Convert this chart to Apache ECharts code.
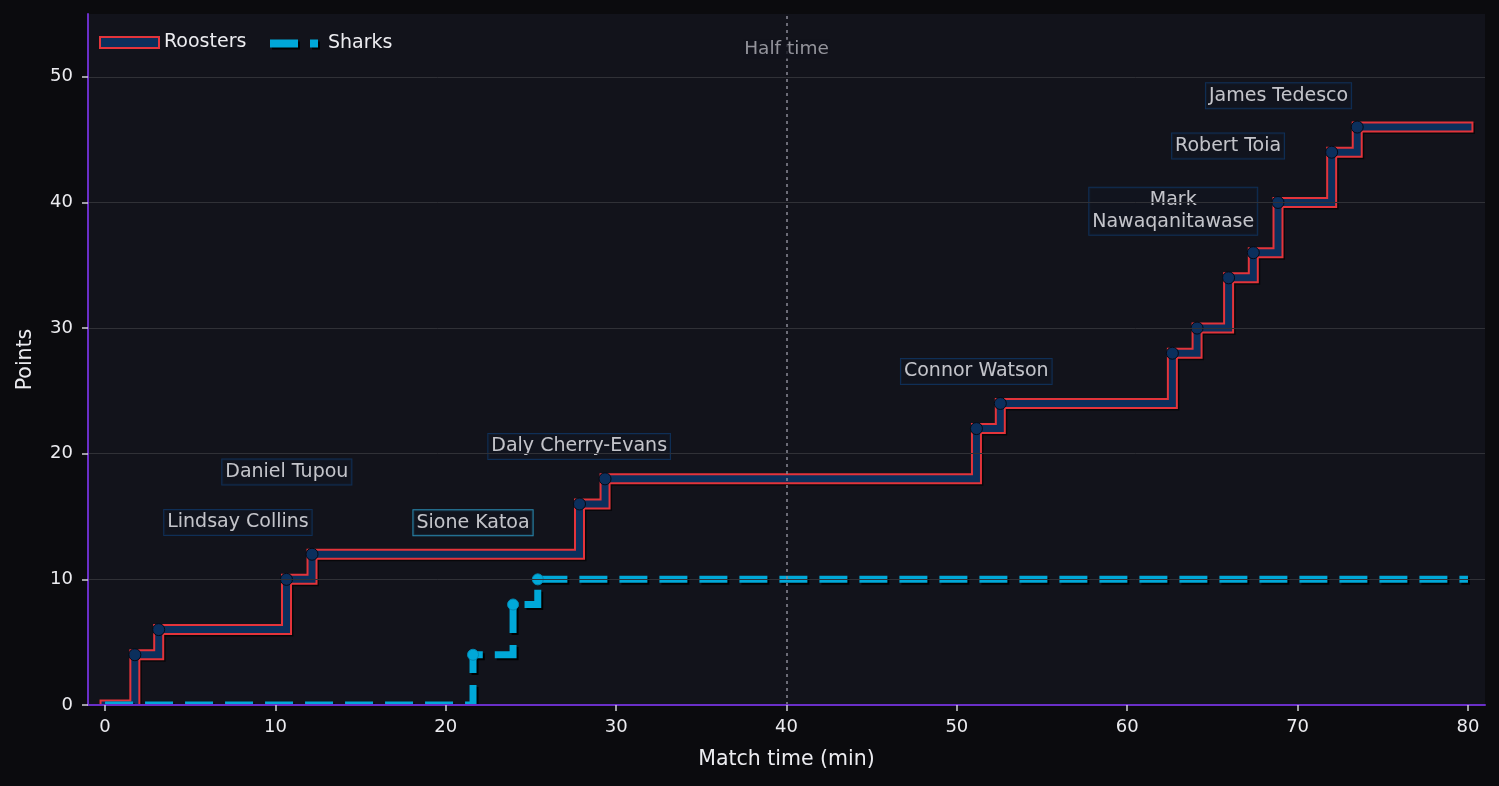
<!DOCTYPE html>
<html><head><meta charset="utf-8">
<script src="https://cdn.jsdelivr.net/npm/echarts@6/dist/echarts.min.js"></script>
<style>html,body{margin:0;padding:0;background:#0b0b0e;} #c{width:1499px;height:786px;}</style>
</head><body><div id="c"></div>
<script>
// ---- data ----
const roostersTimes  = [1.75, 3.15, 10.65, 12.15, 27.85, 29.35, 51.15, 52.55, 62.65, 64.1, 65.95, 67.4, 68.85, 72.0, 73.5];
const roostersScores = [4, 6, 10, 12, 16, 18, 22, 24, 28, 30, 34, 36, 40, 44, 46];
const sharksTimes  = [21.6, 23.95, 25.4];
const sharksScores = [4, 8, 10];
const matchStart = 0;
const matchEnd = 80;
const halfTime = 40;
const halfTimeLabel = 'Half time';
const halfTimeLabelY = 52.2;
const annotationNames = ['Lindsay Collins', 'Daniel Tupou', 'Sione Katoa', 'Daly Cherry-Evans', 'Connor Watson', 'Mark\nNawaqanitawase', 'Robert Toia', 'James Tedesco'];
const annotationX = [7.8, 10.67, 21.6, 27.83, 51.14, 62.7, 65.92, 68.88];
const annotationY = [14.53, 18.55, 14.5, 20.58, 26.55, 39.3, 44.5, 48.5];
const annotationTeam = ['Roosters', 'Roosters', 'Sharks', 'Roosters', 'Roosters', 'Roosters', 'Roosters', 'Roosters'];
const xTicks = [0, 10, 20, 30, 40, 50, 60, 70, 80];

// ---- styles ----
const RED = '#e3343b', NAVY = '#0b2f5c', CYAN = '#00a8d8', PURPLE = '#6a2fc8';
const TXT = '#ececf0', FONT = 'DejaVu Sans';

function stepData(times, scores) {
  const d = [[matchStart, 0]];
  times.forEach((t, i) => d.push([t, scores[i]]));
  d.push([matchEnd, scores[scores.length - 1]]);
  return d;
}
const roostersLine = stepData(roostersTimes, roostersScores);
const sharksLine = stepData(sharksTimes, sharksScores);
const roostersPts = roostersTimes.map((t, i) => [t, roostersScores[i]]);
const sharksPts = sharksTimes.map((t, i) => [t, sharksScores[i]]);

const annData = annotationNames.map((n, i) => ({
  name: n,
  value: [annotationX[i], annotationY[i]],
  label: { borderColor: annotationTeam[i] === 'Sharks' ? '#2ea6d4' : '#0f3766' }
}));

const chart = echarts.init(document.getElementById('c'), null, { renderer: 'canvas' });
chart.setOption({
  backgroundColor: '#0b0b0e',
  animation: false,
  textStyle: { fontFamily: FONT },
  grid: { left: 88, right: 14, top: 14, bottom: 81, show: true, backgroundColor: '#12131b', borderWidth: 0 },
  // mask below the plot area so thick lines are clipped at the bottom spine
  graphic: [{
    type: 'rect', z: 7, silent: true, left: 0, top: 706,
    shape: { width: 1499, height: 80 }, style: { fill: '#0b0b0e' }
  }],
  legend: [
    {
      left: 99, top: 33, padding: 0, selectedMode: false,
      itemWidth: 59, itemHeight: 11,
      textStyle: { color: TXT, fontSize: 19, fontFamily: FONT },
      data: [{ name: 'Roosters', icon: 'rect', itemStyle: { color: NAVY, borderColor: RED, borderWidth: 2 } }]
    },
    {
      left: 270, top: 34, padding: 0, selectedMode: false,
      itemWidth: 48, itemHeight: 8,
      textStyle: { color: TXT, fontSize: 19, fontFamily: FONT, padding: [0, 0, 0, 5] },
      data: [{ name: 'Sharks', icon: 'path://M0,0H28V8H0Z M40,0H48V8H40Z',
               itemStyle: { color: CYAN, borderWidth: 0, shadowColor: 'rgba(0,0,0,0.95)', shadowOffsetX: 2, shadowOffsetY: 2, shadowBlur: 0 } }]
    }
  ],
  xAxis: {
    type: 'value', min: -1, max: 81, z: 10,
    name: 'Match time (min)', nameLocation: 'middle', nameGap: 44,
    nameTextStyle: { color: TXT, fontSize: 20.5, fontFamily: FONT },
    axisLine: { show: true, onZero: false, lineStyle: { color: PURPLE, width: 2 } },
    axisTick: { show: true, length: 6, customValues: xTicks, lineStyle: { color: '#cfcfd4', width: 1.5 } },
    axisLabel: { customValues: xTicks, color: TXT, fontSize: 18, margin: 13, fontFamily: FONT },
    splitLine: { show: false }
  },
  yAxis: {
    type: 'value', min: 0, max: 55, interval: 10, z: 10,
    name: 'Points', nameLocation: 'middle', nameGap: 52,
    nameTextStyle: { color: TXT, fontSize: 20.5, fontFamily: FONT },
    axisLine: { show: true, onZero: false, lineStyle: { color: PURPLE, width: 2 } },
    axisTick: { show: true, length: 6, lineStyle: { color: '#cfcfd4', width: 1.5 } },
    axisLabel: { color: TXT, fontSize: 18, margin: 15, showMaxLabel: false, fontFamily: FONT },
    splitLine: { show: true, showMaxLine: false, showMinLine: false, lineStyle: { color: '#303137', width: 1 } }
  },
  series: [
    {
      name: 'Roosters', type: 'line', step: 'end', data: roostersLine, symbol: 'none', z: 2, silent: true,
      lineStyle: { color: RED, width: 11, cap: 'square', join: 'miter', shadowColor: 'rgba(0,0,0,0.6)', shadowOffsetX: 1.5, shadowOffsetY: 1.5, shadowBlur: 0 }
    },
    {
      name: 'Roosters', type: 'line', step: 'end', data: roostersLine, symbol: 'none', z: 3, silent: true,
      lineStyle: { color: NAVY, width: 7, cap: 'square', join: 'miter' },
      markLine: {
        silent: true, symbol: ['none', 'none'], label: { show: false },
        lineStyle: { color: '#8a8a96', type: [3, 4], width: 1.5 },
        data: [{ xAxis: halfTime }]
      }
    },
    {
      name: 'Sharks', type: 'line', step: 'end', data: sharksLine, symbol: 'none', z: 4, silent: true,
      lineStyle: { color: CYAN, width: 7, type: [28, 12], cap: 'butt', join: 'miter', shadowColor: 'rgba(0,0,0,0.95)', shadowOffsetX: 2, shadowOffsetY: 2, shadowBlur: 0 }
    },
    {
      name: 'Roosters tries', type: 'scatter', data: roostersPts, symbolSize: 12, z: 6, silent: true,
      itemStyle: { color: NAVY, borderColor: '#050a14', borderWidth: 1, opacity: 1 }
    },
    {
      name: 'Sharks tries', type: 'scatter', data: sharksPts, symbolSize: 11, z: 6, silent: true,
      itemStyle: { color: CYAN, borderColor: '#0389b3', borderWidth: 1, opacity: 1 }
    },
    {
      name: 'Annotations', type: 'scatter', data: annData, symbolSize: 1, z: 8, silent: true,
      itemStyle: { color: 'rgba(0,0,0,0)' },
      label: {
        show: true, position: 'inside', formatter: p => p.name,
        color: '#f0f0f5', fontSize: 19, fontFamily: FONT, lineHeight: 22, align: 'center',
        backgroundColor: '#12151f', borderWidth: 1, padding: [2, 3, 1, 3]
      }
    },
    {
      name: 'Half time label', type: 'scatter', data: [[halfTime, halfTimeLabelY]], symbolSize: 1, z: 8, silent: true,
      itemStyle: { color: 'rgba(0,0,0,0)' },
      label: { show: true, position: 'inside', formatter: halfTimeLabel, color: '#b4b4bc', fontSize: 18.5, fontFamily: FONT,
               backgroundColor: '#12131b', padding: [0, 1] }
    }
  ]
});
</script>
</body></html>
